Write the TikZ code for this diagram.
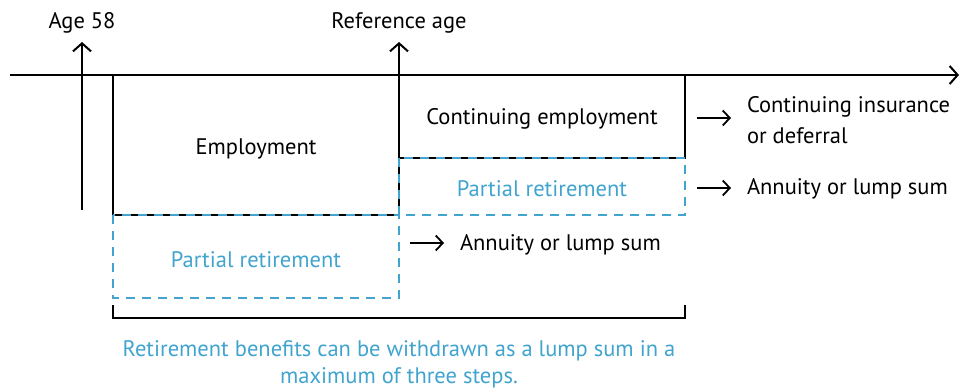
\documentclass[tikz,border=0pt]{standalone}
\usepackage{fontspec}
\setmainfont{PT Sans}
\usetikzlibrary{arrows.meta}
\definecolor{retblue}{RGB}{64,164,206}
\begin{document}
\begin{tikzpicture}[x=1pt,y=-1pt,line width=2pt,
 bigtip/.style={-{Straight Barb[length=8pt,width=18pt,line width=2pt]}},
 smalltip/.style={-{Straight Barb[length=7pt,width=15pt,line width=1.8pt]}},
 bluedash/.style={retblue,line width=2pt,dash pattern=on 9pt off 7pt},
 lbl/.style={font=\fontsize{22.5}{31}\selectfont,inner sep=0pt},
 bluelbl/.style={lbl,text=retblue}] %[1pt = 1px of the reference]
\useasboundingbox (0,0) rectangle (973,388);
% time line and the two ages
\coordinate (t0) at (10,75);
\coordinate (t1) at (959,75);
\draw[bigtip] (t0) -- (t1);
\node[lbl] (age58) at (82,23) {Age 58};
\node[lbl] (refage) at (399,23) {Reference age};
\coordinate (a58) at (82,210);
\coordinate (a58top) at (82,42);
\coordinate (aref) at (399,215);
\coordinate (areftop) at (399,42);
\draw[bigtip] (a58) -- (a58top);
\draw[bigtip] (aref) -- (areftop);
% black boxes
\draw (113,75) -- (113,215) -- (399,215);
\draw (685,75) -- (685,158) -- (399,158);
% partial retirement boxes
\draw[bluedash] (399,158) rectangle (685,215);
\draw[bluedash] (113,215) rectangle (399,298);
\node[lbl] (emp) at (256,149) {Employment};
\node[lbl] (cont) at (542,119) {Continuing employment};
\node[bluelbl] (part1) at (542,189) {Partial retirement};
\node[bluelbl] (part2) at (256,260) {Partial retirement};
% outcomes
\node[lbl,anchor=west,align=left] (insur) at (746,120) {Continuing insurance\\or deferral};
\node[lbl,anchor=west] (lump1) at (746,189) {Annuity or lump sum};
\node[lbl,anchor=west] (lump2) at (459,245) {Annuity or lump sum};
\foreach \n/\x/\y in {insur/697/118,lump1/697/188,lump2/410/243} {
\coordinate (s\n) at (\x,\y);
\draw[smalltip] (s\n) -- ([xshift=-15pt]s\n -| \n.west);
}
% bracket and note
\draw (113,305) -- (113,318) -- (685,318) -- (685,305);
\node[bluelbl,align=center,font=\fontsize{22.5}{27}\selectfont] (note) at (399,364)
 {Retirement benefits can be withdrawn as a lump sum in a\\maximum of three steps.};
\end{tikzpicture}
\end{document}
